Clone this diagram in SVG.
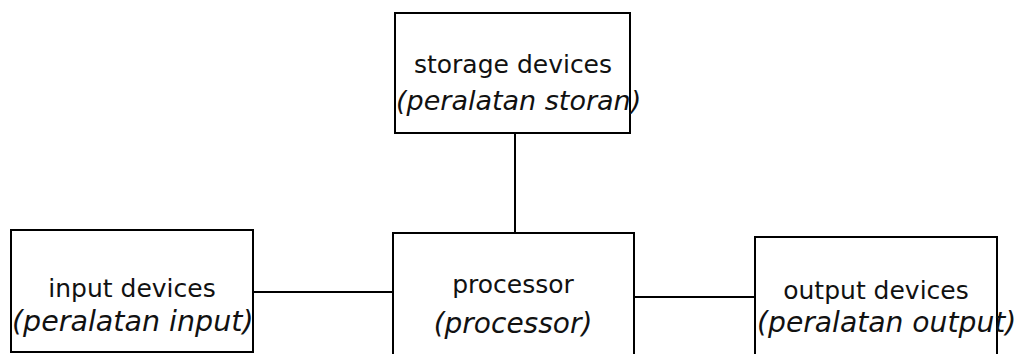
<svg xmlns="http://www.w3.org/2000/svg" width="1020" height="354" viewBox="0 0 1020 354">
<style>
.box{fill:#fff;stroke:#000;stroke-width:2}
.t{font-family:"DejaVu Sans",Verdana,sans-serif;font-size:25px;fill:#111}
.i{font-family:"DejaVu Sans",Verdana,sans-serif;font-size:27px;font-style:italic;fill:#111}
.c{stroke:#000;stroke-width:2;fill:none}
</style>
<rect width="1020" height="354" fill="#fff"/>
<g id="connectors">
<line class="c" x1="515" y1="133" x2="515" y2="233"/>
<line class="c" x1="253" y1="292" x2="393" y2="292"/>
<line class="c" x1="634" y1="297" x2="755" y2="297"/>
</g>
<g id="storage">
<rect class="box" x="395" y="13" width="235" height="120"/>
<text class="t" x="513" y="73" text-anchor="middle">storage devices</text>
<text class="i" x="396" y="110">(peralatan storan)</text>
</g>
<g id="input">
<rect class="box" x="11" y="230" width="242" height="122"/>
<text class="t" x="132" y="297" text-anchor="middle">input devices</text>
<text class="i" x="12" y="331" style="font-size:28.5px">(peralatan input)</text>
</g>
<g id="processor">
<rect class="box" x="393" y="233" width="241" height="140"/>
<text class="t" x="513" y="293" text-anchor="middle">processor</text>
<text class="i" x="513" y="333" text-anchor="middle" style="font-size:28px">(processor)</text>
</g>
<g id="output">
<rect class="box" x="755" y="237" width="242" height="140"/>
<text class="t" x="876" y="299" text-anchor="middle">output devices</text>
<text class="i" x="757" y="332" style="font-size:28.2px">(peralatan output)</text>
</g>
</svg>
